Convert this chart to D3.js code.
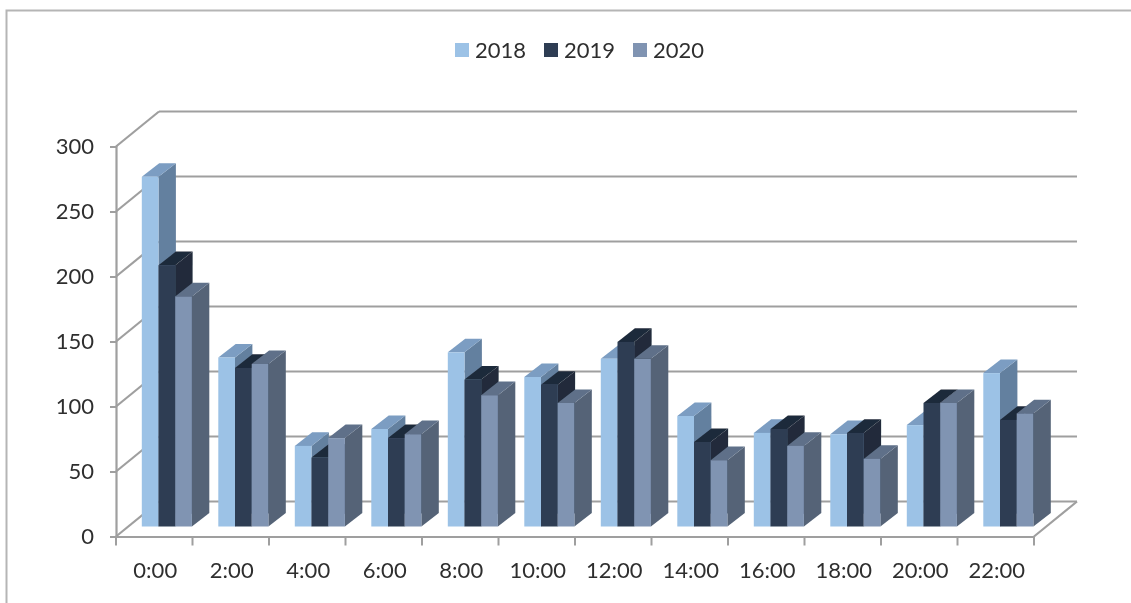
<!DOCTYPE html>
<html><head><meta charset="utf-8">
<script src="https://cdn.jsdelivr.net/npm/d3@7"></script>
<style>
html,body{margin:0;padding:0;background:#fff;overflow:hidden}
text{font-family:Lato,"Noto Sans",sans-serif;fill:#2f2f2f;font-size:22px}
</style></head><body>
<svg id="c" width="1131" height="603"></svg>
<script>
const categories=["0:00","2:00","4:00","6:00","8:00","10:00","12:00","14:00","16:00","18:00","20:00","22:00"];
const seriesNames=["2018","2019","2020"];
const values2018=[269,130,62,75,134,115,129,85,72,71,78,118];
const values2019=[201,122,53,68,113,109,142,65,75,72,95,82];
const values2020=[177,125,68,71,101,95,129,51,62,52,95,87];
const yTicks=[0,50,100,150,200,250,300];
const allValues=[values2018,values2019,values2020];
const colors={
 front:["#9cc2e6","#2f3c53","#8094b2"],
 top:["#7b9dc2","#1f2a3a","#5f7089"],
 side:["#64809f","#202b3b","#546377"]
};
const grid="#9f9f9f";
const svg=d3.select("#c");
const defs=svg.append("defs");
defs.append("filter").attr("id","soft").append("feGaussianBlur").attr("stdDeviation",0.5);
const root=svg.append("g").attr("filter","url(#soft)");

const x=d3.scaleBand().domain(categories).range([116,1034]);
const y=d3.scaleLinear().domain([0,300]).range([536.5,146.5]);
const inner=d3.scaleBand().domain(seriesNames).range([0,x.bandwidth()]).paddingInner(0).paddingOuter(0.79);
const wall={dx:43,dy:-35};
const barPlane={dx:12.6,dy:-10};
const depth={dx:17.4,dy:-13.6};

// frame
root.append("path").attr("d","M6.5,603V10.5H1131").attr("fill","none").attr("stroke","#b5b5b5").attr("stroke-width",2);

// floor and walls
const line=(a,b,c,d)=>root.append("line").attr("x1",a).attr("y1",b).attr("x2",c).attr("y2",d).attr("stroke",grid).attr("stroke-width",2.2);
yTicks.forEach(t=>{
  const yy=y(t);
  line(116,yy,116+wall.dx,yy+wall.dy);
  line(116+wall.dx,yy+wall.dy,1034+wall.dx,yy+wall.dy);
});
line(1034,y(0),1034+wall.dx,y(0)+wall.dy);

// axes
const axL=root.append("g").attr("transform","translate(116,0)").call(d3.axisLeft(y).tickValues(yTicks).tickSize(6).tickPadding(16));
const axB=root.append("g").attr("transform",`translate(0,${y(0)})`).call(d3.axisBottom(x).tickSize(0).tickPadding(34));
axB.selectAll(".tick text").attr("dy","0.32em").attr("dx","1");
axB.append("g").selectAll("line").data(d3.range(13)).join("line")
 .attr("x1",i=>116+i*x.step()).attr("x2",i=>116+i*x.step()).attr("y1",0).attr("y2",9)
 .attr("stroke",grid).attr("stroke-width",2);
[axL,axB].forEach(a=>{
  a.selectAll(".domain").attr("stroke",grid).attr("stroke-width",2.2);
  a.selectAll(".tick line").attr("stroke",grid).attr("stroke-width",2);
  a.selectAll("text").attr("font-size",22).attr("font-family",null);
});

// bars
categories.forEach((cat,i)=>{
  seriesNames.forEach((s,k)=>{
    const v=allValues[k][i];
    const x0=x(cat)+inner(s)+barPlane.dx, x1=x0+inner.bandwidth();
    const yb=y(0)+barPlane.dy, yt=y(v)+barPlane.dy;
    const g=root.append("g");
    g.append("path").attr("fill",colors.side[k])
     .attr("d",`M${x1},${yb}L${x1+depth.dx},${yb+depth.dy}L${x1+depth.dx},${yt+depth.dy}L${x1},${yt}Z`);
    g.append("path").attr("fill",colors.top[k])
     .attr("d",`M${x0},${yt}L${x0+depth.dx},${yt+depth.dy}L${x1+depth.dx},${yt+depth.dy}L${x1},${yt}Z`);
    g.append("rect").attr("x",x0).attr("y",yt).attr("width",x1-x0).attr("height",yb-yt).attr("fill",colors.front[k]);
  });
});

// legend
const lx=d3.scalePoint().domain(seriesNames).range([455,633]);
const lg=root.append("g").selectAll("g").data(seriesNames).join("g").attr("transform",d=>`translate(${lx(d)},0)`);
lg.append("rect").attr("y",43).attr("width",14).attr("height",14).attr("fill",(d,i)=>colors.front[i]);
lg.append("text").attr("x",20).attr("y",50).attr("dy","0.35em").style("font-size","22px").text(d=>d);
</script>
</body></html>
